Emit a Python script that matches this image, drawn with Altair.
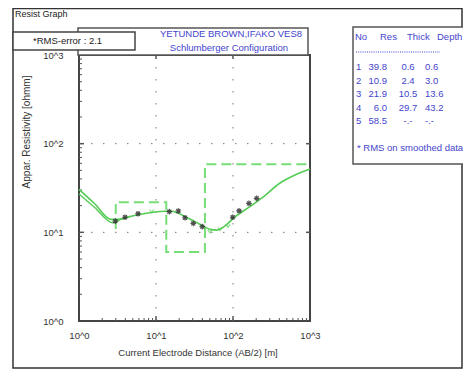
import altair as alt
import pandas as pd

# ---------------- data ----------------
calc_x = [1, 1.6, 2.6, 3.2, 4.6, 7.2, 11.3, 15.2, 19.3, 23.8, 32.1, 40.8, 50.3, 62, 78.7, 106, 166, 238, 408, 638, 1000]
calc_y = [30.5, 21.0, 14.0, 14.0, 15.1, 16.3, 17.2, 17.4, 16.5, 15.0, 13.2, 11.8, 10.8, 10.6, 11.8, 14.9, 19.5, 24.4, 36.0, 44.3, 51.7]
smooth_x = [1, 1.6, 2.75, 3.5, 4.6]
smooth_y = [27.0, 19.1, 12.8, 14.0, 15.1]
obs_x = [2.96, 3.96, 5.84, 14.9, 19.5, 23.8, 30.5, 39.9, 99, 120, 161, 203]
obs_y = [13.4, 14.8, 16.2, 17.1, 17.4, 14.6, 12.6, 11.6, 14.8, 17.5, 21.2, 24.2]
mark_x = [8.8, 50.3, 67.8, 86]
mark_y = [17.5, 10.3, 11.0, 11.9]

layer_no = ["1", "2", "3", "4", "5"]
layer_res = ["39.8", "10.9", "21.9", "6.0", "58.5"]
layer_thick = ["0.6", "2.4", "10.5", "29.7", "-.-"]
layer_depth = ["0.6", "3.0", "13.6", "43.2", "-.-"]

model_x = [3.0, 3.0, 13.6, 13.6, 43.2, 43.2, 1000]
model_y = [10.9, 21.9, 21.9, 6.0, 6.0, 58.5, 58.5]

tick_labels_vals = [1, 10, 100, 1000]
grid_vals = [10, 100]
minor_vals = [m * d for d in (1, 10, 100) for m in range(2, 10)]

FONT = "Liberation Sans"
BLUE = "#4444cc"
GREEN = "#55cc55"
W, H = 231, 266

xs = alt.Scale(type="log", domain=[1, 1000], nice=False)
ys = alt.Scale(type="log", domain=[1, 1000], nice=False)
xaxis = alt.Axis(values=tick_labels_vals, labelExpr="'10^' + round(log(datum.value)/LN10)",
                 ticks=False, domain=False, grid=False, title=None, labelFont=FONT,
                 labelFontSize=9.5, labelColor="#333", labelPadding=9, labelFlush=False,
                 labelOverlap=False)
yaxis = alt.Axis(values=tick_labels_vals, labelExpr="'10^' + round(log(datum.value)/LN10)",
                 ticks=False, domain=False, grid=False, title=None, labelFont=FONT,
                 labelFontSize=9.5, labelColor="#333", labelPadding=16, labelFlush=False,
                 labelOverlap=False)

one = pd.DataFrame({"k": [0]})
base = alt.Chart(one)


def txt(s, x, y, **kw):
    return base.mark_text(text=s, font=FONT, **kw).encode(x=alt.value(x), y=alt.value(y))


def box(x1, y1, x2, y2, fill="transparent", stroke="#444", sw=1.5):
    return base.mark_rect(fill=fill, stroke=stroke, strokeWidth=sw).encode(
        x=alt.value(x1), x2=alt.value(x2), y=alt.value(y1), y2=alt.value(y2))


def X(f):
    return alt.X(f, type="quantitative", scale=xs, axis=xaxis)


def Y(f):
    return alt.Y(f, type="quantitative", scale=ys, axis=yaxis)


layers = []

# frame and boxes
layers.append(box(-66, -46.5, 383, 313, stroke="#333", sw=1.5))
layers.append(txt("Resist Graph", -64, -41, fontSize=9, align="left", baseline="middle", color="#222"))
layers.append(box(-1, -27, 229, 0, fill="white", stroke="#555"))
layers.append(box(-66, -23, 56, -5, fill="white", stroke="#444"))
layers.append(txt("*RMS-error :  2.1", -46, -14, fontSize=9.5, align="left", baseline="middle", color="#222"))
layers.append(txt("YETUNDE BROWN,IFAKO VES8", 152, -21, fontSize=9.5, align="center", baseline="middle", color=BLUE))
layers.append(txt("Schlumberger Configuration", 150, -7, fontSize=9.5, align="center", baseline="middle", color=BLUE))

# legend table
layers.append(box(274, -28, 420, 109, fill="white", stroke="#555"))
for s, x in [("No", 276), ("Res", 301), ("Thick", 328), ("Depth", 358)]:
    layers.append(txt(s, x, -18, fontSize=9.5, align="left", baseline="middle", color=BLUE))
layers.append(base.mark_rule(color=BLUE, strokeDash=[1, 1.2], strokeWidth=1).encode(
    x=alt.value(277), x2=alt.value(361), y=alt.value(-3)))
for i in range(len(layer_no)):
    yy = 12 + 13.5 * i
    layers.append(txt(layer_no[i], 277, yy, fontSize=9.5, align="left", baseline="middle", color=BLUE))
    layers.append(txt(layer_res[i], 308, yy, fontSize=9.5, align="right", baseline="middle", color=BLUE))
    layers.append(txt(layer_thick[i], 329, yy, fontSize=9.5, align="center", baseline="middle", color=BLUE))
    layers.append(txt(layer_depth[i], 346, yy, fontSize=9.5, align="left", baseline="middle", color=BLUE))
layers.append(txt("* RMS on smoothed data", 278, 93, fontSize=9.5, align="left", baseline="middle", color=BLUE))

# axis titles
layers.append(txt("Current Electrode Distance (AB/2) [m]", 119, 298, fontSize=9.5, align="center",
                  baseline="middle", color="#333"))
layers.append(txt("Appar. Resistivity [ohmm]", -52, 77, fontSize=10, align="center",
                  baseline="middle", angle=270, color="#333"))

# grid
gx = pd.DataFrame({"v": grid_vals})
layers.append(alt.Chart(gx).mark_rule(color="#777", strokeDash=[1.5, 10.5], strokeWidth=1).encode(
    x=X("v"), y=alt.value(0), y2=alt.value(H)))
layers.append(alt.Chart(gx).mark_rule(color="#777", strokeDash=[1.5, 10.5], strokeWidth=1).encode(
    y=Y("v"), x=alt.value(0), x2=alt.value(W)))

# ticks
mn = pd.DataFrame({"v": minor_vals})
layers.append(alt.Chart(mn).mark_rule(color="#555", strokeWidth=1).encode(
    x=X("v"), y=alt.value(H), y2=alt.value(H - 3)))
layers.append(alt.Chart(mn).mark_rule(color="#555", strokeWidth=1).encode(
    y=Y("v"), x=alt.value(0), x2=alt.value(3)))
layers.append(alt.Chart(gx).mark_rule(color="#555", strokeWidth=1.5).encode(
    x=X("v"), y=alt.value(H), y2=alt.value(H - 5)))
layers.append(alt.Chart(gx).mark_rule(color="#555", strokeWidth=1.5).encode(
    x=X("v"), y=alt.value(0), y2=alt.value(4)))
layers.append(alt.Chart(gx).mark_rule(color="#555", strokeWidth=1.5).encode(
    y=Y("v"), x=alt.value(0), x2=alt.value(5)))
layers.append(alt.Chart(gx).mark_rule(color="#555", strokeWidth=1.5).encode(
    y=Y("v"), x=alt.value(W), x2=alt.value(W - 4)))

# model (dashed)
md = pd.DataFrame({"x": model_x, "y": model_y, "o": list(range(len(model_x)))})
layers.append(alt.Chart(md).mark_line(color="#77dd77", strokeWidth=2, strokeDash=[10, 5]).encode(
    x=X("x"), y=Y("y"), order="o:Q"))

# curves
sd = pd.DataFrame({"x": smooth_x, "y": smooth_y})
layers.append(alt.Chart(sd).mark_line(color=GREEN, strokeWidth=1.4, interpolate="monotone").encode(
    x=X("x"), y=Y("y")))
cd = pd.DataFrame({"x": calc_x, "y": calc_y})
layers.append(alt.Chart(cd).mark_line(color=GREEN, strokeWidth=1.6, interpolate="monotone").encode(
    x=X("x"), y=Y("y")))
gm = pd.DataFrame({"x": mark_x, "y": mark_y})
layers.append(alt.Chart(gm).mark_point(shape="M-1,-0.6L0,0.8L1,-0.6", color=GREEN, size=18,
                                       strokeWidth=1.2, filled=False).encode(x=X("x"), y=Y("y")))

# observed data
od = pd.DataFrame({"x": obs_x, "y": obs_y})
layers.append(alt.Chart(od).mark_point(
    shape="M-1,0L1,0M0,-1L0,1M-0.7,-0.7L0.7,0.7M-0.7,0.7L0.7,-0.7",
    color="#333", size=32, strokeWidth=1.2, filled=False, opacity=0.85).encode(x=X("x"), y=Y("y")))

chart = alt.layer(*layers).properties(
    width=W, height=H,
    autosize=alt.AutoSizeParams(type="none"),
    padding={"left": 71, "top": 47, "right": 153, "bottom": 56},
    background="white",
).configure_view(stroke="#444", strokeWidth=2)

chart.save("out.html", embed_options={"renderer": "svg", "actions": False})
